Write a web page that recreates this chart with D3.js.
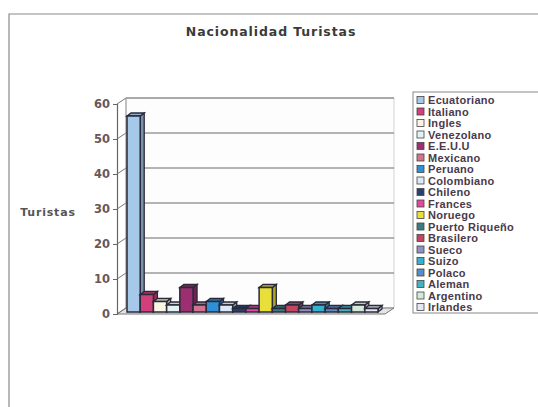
<!DOCTYPE html>
<html>
<head>
<meta charset="utf-8">
<script src="https://cdn.jsdelivr.net/npm/d3@7"></script>
<style>
  body { margin: 0; background: #fff; }
  svg { display: block; font-family: "Liberation Sans", Arial, sans-serif; }
</style>
</head>
<body>
<div class="chart"></div>
<script>
// datos
const paises = ["Ecuatoriano", "Italiano", "Ingles", "Venezolano", "E.E.U.U", "Mexicano", "Peruano",
  "Colombiano", "Chileno", "Frances", "Noruego", "Puerto Riqueño", "Brasilero", "Sueco", "Suizo",
  "Polaco", "Aleman", "Argentino", "Irlandes"];
const turistas = [56, 5, 3, 2, 7, 2, 3, 2, 1, 1, 7, 1, 2, 1, 2, 1, 1, 2, 1];
const colores = ["#a6c9ea", "#d2407c", "#fbf6e4", "#e2f3f3", "#9c2f70", "#d27490", "#2f90d6",
  "#dce9f6", "#2c4070", "#e04aa0", "#e8df3a", "#3c7c80", "#c44462", "#9090c4", "#34b2d2",
  "#5c8cc4", "#44b2c0", "#d4ead8", "#e2e8f2"];
const yTicks = [0, 10, 20, 30, 40, 50, 60];

const W = 538, H = 407;
const svg = d3.select(".chart").append("svg").attr("width", W).attr("height", H);

// marco del grafico
svg.append("path").attr("d", `M9,${H} L9,14 L${W},14`)
  .attr("fill", "none").attr("stroke", "#8a8a8a").attr("stroke-width", 1.2);

svg.append("text").attr("x", 271).attr("y", 36).attr("text-anchor", "middle")
  .style("font-family", "'DejaVu Sans', sans-serif").style("font-weight", "bold")
  .style("font-size", "12.5px").attr("fill", "#3a3a3a").attr("letter-spacing", "0.9")
  .text("Nacionalidad Turistas");

// geometria 3d
const x0 = 117, x1 = 385;
const ddx = 9, ddy = -6;
const y = d3.scaleLinear().domain([0, 60]).range([314, 104]);
const x = d3.scaleBand().domain(paises).range([127, 378]).padding(0);

// pared del fondo y suelo
svg.append("path")
  .attr("d", `M${x0 + ddx},${y(60) + ddy} L${x1 + ddx},${y(60) + ddy} L${x1 + ddx},${y(0) + ddy} L${x0 + ddx},${y(0) + ddy} Z`)
  .attr("fill", "#fdfdfd").attr("stroke", "#c8c8c8").attr("stroke-width", 0.8);
svg.append("path")
  .attr("d", `M${x0},${y(0)} L${x0 + ddx},${y(0) + ddy} L${x1 + ddx},${y(0) + ddy} L${x1},${y(0)} Z`)
  .attr("fill", "#e4e4e4").attr("stroke", "#777").attr("stroke-width", 1);

// lineas de division
svg.selectAll(".grid").data(yTicks.slice(1)).join("line").attr("class", "grid")
  .attr("x1", x0 + ddx).attr("x2", x1 + ddx)
  .attr("y1", d => y(d) + ddy).attr("y2", d => y(d) + ddy)
  .attr("stroke", "#6a6a6a").attr("stroke-width", 1);
svg.selectAll(".wall").data(yTicks).join("line").attr("class", "wall")
  .attr("x1", x0).attr("x2", x0 + ddx)
  .attr("y1", d => y(d)).attr("y2", d => y(d) + ddy)
  .attr("stroke", "#777").attr("stroke-width", 1);
svg.append("line").attr("x1", x0 + ddx).attr("x2", x0 + ddx)
  .attr("y1", y(60) + ddy).attr("y2", y(0) + ddy).attr("stroke", "#999");

// eje y
const axis = svg.append("g").attr("transform", `translate(${x0},0)`)
  .call(d3.axisLeft(y).tickValues(yTicks).tickSize(4).tickPadding(3));
axis.select(".domain").attr("stroke", "#666").attr("stroke-width", 1.2);
axis.selectAll(".tick line").attr("stroke", "#666");
axis.selectAll("text").style("font-size", "11.5px").style("font-weight", "bold")
  .style("font-family", "'DejaVu Sans', sans-serif").attr("fill", "#6a5656");

svg.append("text").attr("x", 48).attr("y", 216).attr("text-anchor", "middle")
  .style("font-size", "11px").style("font-weight", "bold").attr("fill", "#555")
  .style("font-family", "'DejaVu Sans', sans-serif")
  .attr("letter-spacing", "0.8").text("Turistas");

// barras 3d
const bw = x.bandwidth(), sx = 4, sy = -3, off = -2;
const bars = svg.selectAll(".bar").data(paises).join("g").attr("class", "bar");
bars.each(function (p, i) {
  const g = d3.select(this);
  const bx = x(p), yt = y(turistas[i]) + off, yb = y(0) + off;
  const c = d3.color(colores[i]);
  g.append("path")
    .attr("d", `M${bx + bw},${yt} L${bx + bw + sx},${yt + sy} L${bx + bw + sx},${yb + sy} L${bx + bw},${yb} Z`)
    .attr("fill", c.darker(0.9)).attr("stroke", "#2a2a3a").attr("stroke-width", 1.3);
  g.append("path")
    .attr("d", `M${bx},${yt} L${bx + sx},${yt + sy} L${bx + bw + sx},${yt + sy} L${bx + bw},${yt} Z`)
    .attr("fill", c.darker(0.4)).attr("stroke", "#2a2a3a").attr("stroke-width", 1.3);
  g.append("rect").attr("x", bx).attr("y", yt).attr("width", bw).attr("height", yb - yt)
    .attr("fill", c).attr("stroke", "#2a2a3a").attr("stroke-width", 1.5);
});

// leyenda
const lg = svg.append("g").attr("transform", "translate(413,92)");
lg.append("rect").attr("x", 0).attr("y", 0).attr("width", 140).attr("height", 221)
  .attr("fill", "#fff").attr("stroke", "#888").attr("stroke-width", 1);
const items = lg.selectAll(".item").data(paises).join("g").attr("class", "item")
  .attr("transform", (d, i) => `translate(0,${8.5 + i * 11.5})`);
items.append("rect").attr("x", 4).attr("y", -4).attr("width", 7).attr("height", 7)
  .attr("fill", (d, i) => colores[i]).attr("stroke", "#444").attr("stroke-width", 0.8);
items.append("text").attr("x", 15).attr("y", 3.5)
  .style("font-size", "11px").style("font-weight", "bold").attr("fill", "#4a3a4a")
  .attr("letter-spacing", "0.3")
  .text(d => d);
</script>
</body>
</html>
